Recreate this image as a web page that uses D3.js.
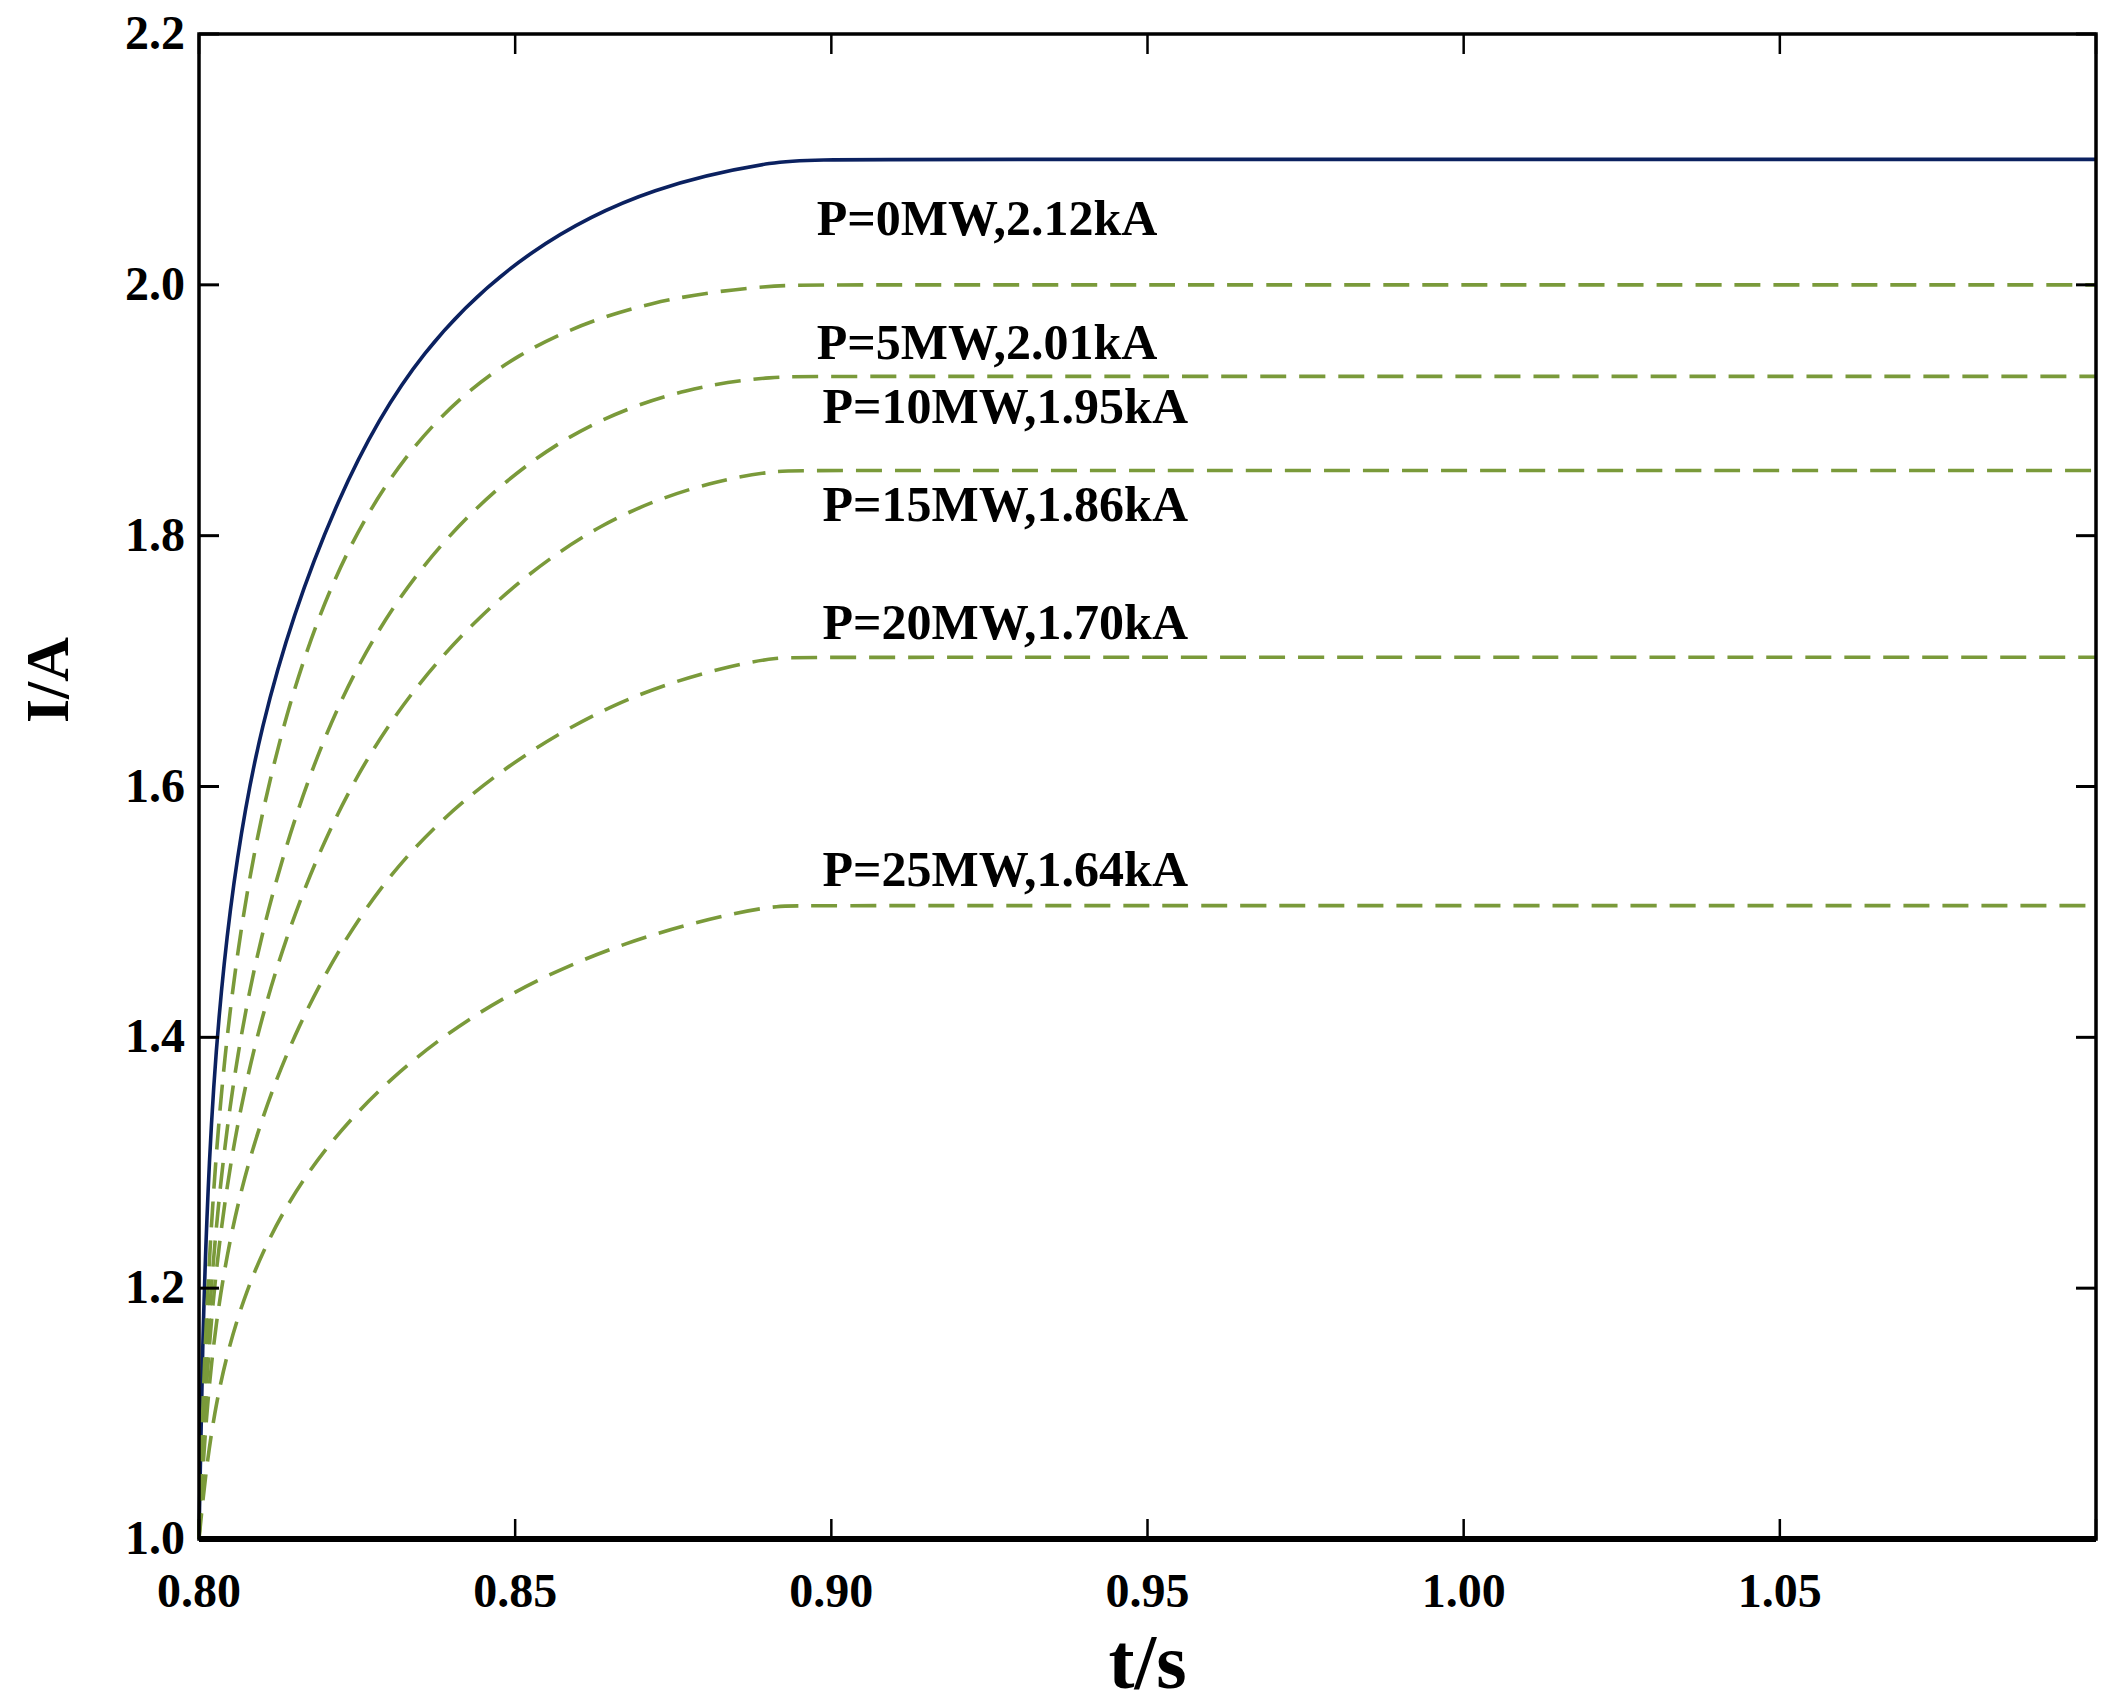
<!DOCTYPE html>
<html><head><meta charset="utf-8">
<script src="https://cdn.jsdelivr.net/npm/d3@7"></script>
<style>body{margin:0;background:#fff}</style>
</head><body>
<script>
// data
const seriesNames = ["P=0MW,2.12kA","P=5MW,2.01kA","P=10MW,1.95kA","P=15MW,1.86kA","P=20MW,1.70kA","P=25MW,1.64kA"];
const s0 = [[0.800,1.0],[0.8005,1.15],[0.8015,1.3],[0.8034,1.45],[0.8088,1.65],[0.8221,1.84],[0.835,1.95],[0.852,2.03],[0.872,2.08],[0.893,2.1],[0.897,2.1],[1.1,2.1]];
const s5 = [[0.800,1.0],[0.8008,1.15],[0.803,1.35],[0.808,1.55],[0.818,1.74],[0.832,1.87],[0.850,1.95],[0.872,1.99],[0.892,2.0],[0.895,2.0],[1.1,2.0]];
const s10 = [[0.800,1.0],[0.801,1.15],[0.804,1.33],[0.810,1.5],[0.822,1.68],[0.838,1.8],[0.858,1.885],[0.878,1.92],[0.892,1.927],[0.895,1.927],[1.1,1.927]];
const s15 = [[0.800,1.0],[0.8012,1.15],[0.805,1.32],[0.813,1.48],[0.826,1.63],[0.844,1.74],[0.864,1.815],[0.882,1.845],[0.892,1.852],[0.895,1.852],[1.1,1.852]];
const s20 = [[0.800,1.0],[0.8015,1.14],[0.806,1.28],[0.815,1.41],[0.829,1.53],[0.846,1.61],[0.866,1.67],[0.884,1.697],[0.892,1.703],[0.895,1.703],[1.1,1.703]];
const s25 = [[0.800,1.0],[0.802,1.1],[0.807,1.2],[0.816,1.29],[0.830,1.37],[0.848,1.435],[0.868,1.478],[0.885,1.5],[0.892,1.505],[0.895,1.505],[1.1,1.505]];
const labelPos = [[0.8977,2.040],[0.8977,1.941],[0.8986,1.890],[0.8986,1.812],[0.8986,1.718],[0.8986,1.521]];
const xTicks = [0.80,0.85,0.90,0.95,1.00,1.05];
const yTicks = [1.0,1.2,1.4,1.6,1.8,2.0,2.2];

const W = 2122, H = 1702;
const m = {left:199, right:2096, top:34, bottom:1539};
const svg = d3.select("body").append("svg").attr("width",W).attr("height",H);
const x = d3.scaleLinear().domain([0.8,1.1]).range([m.left,m.right]);
const y = d3.scaleLinear().domain([1.0,2.2]).range([m.bottom,m.top]);
const font = "'Liberation Serif','Times New Roman',serif";

const line = d3.line().x(d=>x(d[0])).y(d=>y(d[1])).curve(d3.curveBasis);
const all = [s0,s5,s10,s15,s20,s25];
all.forEach((s,i)=>{
  svg.append("path").attr("d",line(s)).attr("fill","none")
    .attr("stroke", i==0 ? "#0b2160" : "#7a9a3a")
    .attr("stroke-width", 3.6)
    .attr("stroke-dasharray", i==0 ? null : "26,13");
});

// frame
svg.append("rect").attr("x",m.left).attr("y",m.top).attr("width",m.right-m.left).attr("height",m.bottom-m.top)
  .attr("fill","none").attr("stroke","#000").attr("stroke-width",3.5);
svg.append("line").attr("x1",m.left).attr("x2",m.right).attr("y1",m.bottom).attr("y2",m.bottom)
  .attr("stroke","#000").attr("stroke-width",6);

const tl = 20;
const g = svg.append("g");
xTicks.concat([1.1]).forEach(t=>{
  g.append("line").attr("x1",x(t)).attr("x2",x(t)).attr("y1",m.bottom).attr("y2",m.bottom-tl).attr("stroke","#000").attr("stroke-width",2.5);
  g.append("line").attr("x1",x(t)).attr("x2",x(t)).attr("y1",m.top).attr("y2",m.top+tl).attr("stroke","#000").attr("stroke-width",2.5);
});
yTicks.forEach(t=>{
  g.append("line").attr("x1",m.left).attr("x2",m.left+tl).attr("y1",y(t)).attr("y2",y(t)).attr("stroke","#000").attr("stroke-width",3);
  g.append("line").attr("x1",m.right).attr("x2",m.right-tl).attr("y1",y(t)).attr("y2",y(t)).attr("stroke","#000").attr("stroke-width",3);
});
xTicks.forEach(t=>{
  svg.append("text").attr("x",x(t)).attr("y",m.bottom+68).attr("text-anchor","middle")
    .style("font-family",font).style("font-weight","bold").style("font-size","48px").text(t.toFixed(2));
});
yTicks.forEach(t=>{
  svg.append("text").attr("x",m.left-14).attr("y",y(t)+15).attr("text-anchor","end")
    .style("font-family",font).style("font-weight","bold").style("font-size","48px").text(t.toFixed(1));
});

seriesNames.forEach((n,i)=>{
  svg.append("text").attr("x",x(labelPos[i][0])).attr("y",y(labelPos[i][1]))
    .style("font-family",font).style("font-weight","bold").style("font-size","50px").text(n);
});

svg.append("text").attr("x",(m.left+m.right)/2 + 0).attr("y",1688).attr("text-anchor","middle")
  .style("font-family",font).style("font-weight","bold").style("font-size","78px").text("t/s");
svg.append("text").attr("transform",`translate(68,680) rotate(-90)`).attr("text-anchor","middle")
  .style("font-family",font).style("font-weight","bold").style("font-size","62px").text("I/A");
</script>
</body></html>
